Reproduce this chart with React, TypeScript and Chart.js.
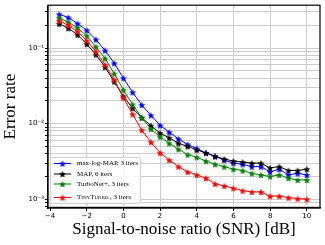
import { useEffect, useRef } from 'react';
import { Chart, registerables } from 'chart.js';

Chart.register(...registerables);

const snr = [-3.5, -3, -2.5, -2, -1.5, -1, -0.5, 0, 0.5, 1, 1.5, 2, 2.5, 3, 3.5, 4, 4.5, 5, 5.5, 6, 6.5, 7, 7.5, 8, 8.5, 9, 9.5, 10];
const maxLogMap = [0.28, 0.254, 0.211, 0.172, 0.13, 0.093, 0.063, 0.04, 0.026, 0.0177, 0.0129, 0.0095, 0.0077, 0.0063, 0.0053, 0.0047, 0.0041, 0.0037, 0.0033, 0.003, 0.0029, 0.0027, 0.0027, 0.0023, 0.0025, 0.0021, 0.0022, 0.0021];
const map6 = [0.21, 0.183, 0.15, 0.113, 0.082, 0.056, 0.036, 0.023, 0.016, 0.012, 0.0094, 0.0075, 0.0065, 0.0055, 0.005, 0.0045, 0.0041, 0.0037, 0.0034, 0.0032, 0.0031, 0.003, 0.003, 0.0026, 0.0027, 0.0024, 0.0024, 0.0025];
const turboNet = [0.25, 0.22, 0.185, 0.145, 0.104, 0.073, 0.046, 0.028, 0.018, 0.012, 0.0085, 0.0067, 0.0055, 0.0046, 0.0039, 0.0036, 0.0032, 0.0029, 0.0027, 0.0025, 0.0024, 0.0022, 0.0021, 0.002, 0.0021, 0.0019, 0.0018, 0.0018];
const tinyTurbo = [0.23, 0.2, 0.165, 0.125, 0.09, 0.06, 0.038, 0.022, 0.0133, 0.0082, 0.0057, 0.0041, 0.0033, 0.0027, 0.0023, 0.0021, 0.0019, 0.0016, 0.0015, 0.0014, 0.0013, 0.00125, 0.00125, 0.0011, 0.0011, 0.00105, 0.00102, 0.001];

const seriesLabels = ['max-log-MAP, 3 iters', 'MAP, 6 iters', 'TurboNet+, 3 iters', 'TinyTurbo', ' , 3 iters'];
const xTicks = [-4, -2, 0, 2, 4, 6, 8, 10];
const yTicks = [0.0008, 0.0009, 0.001, 0.002, 0.003, 0.004, 0.005, 0.006, 0.007, 0.008, 0.009, 0.01, 0.02, 0.03, 0.04, 0.05, 0.06, 0.07, 0.08, 0.09, 0.1, 0.2, 0.3];
const yTickLabels: Record<string, string> = { '-3': '10\u207B\u00B3', '-2': '10\u207B\u00B2', '-1': '10\u207B\u00B9' };

function makeStar(color: string, r = 3.7) {
  const size = Math.ceil(r * 2 + 2);
  const c = document.createElement('canvas');
  c.width = size;
  c.height = size;
  const ctx = c.getContext('2d')!;
  ctx.beginPath();
  for (let i = 0; i < 10; i++) {
    const rad = i % 2 === 0 ? r : r * 0.45;
    const a = -Math.PI / 2 + (i * Math.PI) / 5;
    const x = size / 2 + rad * Math.cos(a);
    const y = size / 2 + 0.5 + rad * Math.sin(a);
    if (i === 0) ctx.moveTo(x, y);
    else ctx.lineTo(x, y);
  }
  ctx.closePath();
  ctx.fillStyle = color;
  ctx.fill();
  return c;
}

export default function App() {
  const ref = useRef<HTMLCanvasElement>(null);

  useEffect(() => {
    const colors = { blue: '#0000ff', black: '#000000', green: '#008000', red: '#ff0000' };
    const stars = {
      blue: makeStar(colors.blue),
      black: makeStar(colors.black),
      green: makeStar(colors.green),
      red: makeStar(colors.red),
    };
    const mk = (vals: number[], key: 'blue' | 'black' | 'green' | 'red') => ({
      data: snr.map((x, i) => ({ x, y: vals[i] })),
      borderColor: colors[key],
      backgroundColor: colors[key],
      borderWidth: 1,
      pointStyle: stars[key] as any,
      pointRadius: 4,
      tension: 0,
      fill: false,
    });

    const framePlugin = {
      id: 'frameLegend',
      afterDraw(chart: any) {
        const { ctx, chartArea } = chart;
        ctx.save();
        ctx.strokeStyle = '#000';
        ctx.lineWidth = 1.2;
        ctx.strokeRect(chartArea.left, chartArea.top, chartArea.right - chartArea.left, chartArea.bottom - chartArea.top);

        // legend
        const bx = 50.5, by = 157.5, bw = 90, bh = 46;
        ctx.beginPath();
        const rr = 2;
        ctx.moveTo(bx + rr, by);
        ctx.lineTo(bx + bw - rr, by);
        ctx.quadraticCurveTo(bx + bw, by, bx + bw, by + rr);
        ctx.lineTo(bx + bw, by + bh - rr);
        ctx.quadraticCurveTo(bx + bw, by + bh, bx + bw - rr, by + bh);
        ctx.lineTo(bx + rr, by + bh);
        ctx.quadraticCurveTo(bx, by + bh, bx, by + bh - rr);
        ctx.lineTo(bx, by + rr);
        ctx.quadraticCurveTo(bx, by, bx + rr, by);
        ctx.closePath();
        ctx.fillStyle = 'rgba(255,255,255,0.8)';
        ctx.fill();
        ctx.strokeStyle = '#d0d0d0';
        ctx.lineWidth = 1;
        ctx.stroke();

        const rows: Array<{ key: 'blue' | 'black' | 'green' | 'red'; y: number }> = [
          { key: 'blue', y: 163.5 },
          { key: 'black', y: 174 },
          { key: 'green', y: 184 },
          { key: 'red', y: 197.5 },
        ];
        rows.forEach((r, i) => {
          ctx.strokeStyle = colors[r.key];
          ctx.lineWidth = 1;
          ctx.beginPath();
          ctx.moveTo(54, r.y);
          ctx.lineTo(71, r.y);
          ctx.stroke();
          const s = stars[r.key];
          ctx.drawImage(s, 62.5 - s.width / 2, r.y - s.height / 2);
          ctx.fillStyle = '#000';
          ctx.textBaseline = 'middle';
          ctx.textAlign = 'left';
          if (i < 3) {
            ctx.font = '7px "Liberation Serif"';
            ctx.fillText(seriesLabels[i], 77, r.y);
          } else {
            ctx.font = 'small-caps 7px "Liberation Serif"';
            ctx.fillText(seriesLabels[3], 77, r.y);
            const w = ctx.measureText(seriesLabels[3]).width;
            ctx.font = '7px "Liberation Serif"';
            ctx.fillText(seriesLabels[4], 77 + w, r.y);
          }
        });
        ctx.restore();
      },
    };

    const chart = new Chart(ref.current!, {
      type: 'line',
      data: {
        datasets: [mk(tinyTurbo, 'red'), mk(turboNet, 'green'), mk(map6, 'black'), mk(maxLogMap, 'blue')],
      },
      options: {
        animation: false,
        responsive: false,
        layout: { padding: { top: 5, right: 5, left: 0, bottom: 0 } },
        plugins: { legend: { display: false }, tooltip: { enabled: false } },
        scales: {
          x: {
            type: 'linear',
            min: -4.11,
            max: 10.72,
            afterBuildTicks: (s: any) => {
              s.ticks = xTicks.map((v) => ({ value: v }));
            },
            afterFit: (s: any) => {
              s.height = 37;
            },
            ticks: {
              autoSkip: false,
              maxRotation: 0,
              padding: 1,
              color: '#000',
              font: { family: 'DejaVu Sans', size: 7 },
              callback: (v: any) => (Number(v) < 0 ? '\u2212' + Math.abs(Number(v)) : String(v)),
            },
            grid: { color: '#cccccc', lineWidth: 1, tickColor: '#000', tickLength: 3 },
            border: { color: '#000', width: 1.2 },
            title: {
              display: true,
              text: 'Signal-to-noise ratio (SNR) [dB]',
              color: '#000',
              font: { family: 'Liberation Serif', size: 17 },
              padding: { top: 0, bottom: 5 },
            },
          },
          y: {
            type: 'logarithmic',
            min: 0.000766,
            max: 0.369,
            afterBuildTicks: (s: any) => {
              s.ticks = yTicks.map((v) => ({ value: v }));
            },
            afterFit: (s: any) => {
              s.width = 48;
            },
            ticks: {
              autoSkip: false,
              padding: 1,
              color: '#000',
              font: { family: 'DejaVu Sans', size: 7 },
              callback: (v: any) => {
                const l = Math.log10(Number(v));
                const r = Math.round(l);
                if (Math.abs(l - r) < 1e-6) return yTickLabels[String(r)] ?? '';
                return '';
              },
            },
            grid: { color: '#cccccc', lineWidth: 1, tickColor: '#000', tickLength: 3 },
            border: { color: '#000', width: 1.2 },
            title: {
              display: true,
              text: 'Error rate',
              color: '#000',
              font: { family: 'Liberation Serif', size: 17 },
              padding: { top: 0, bottom: 0 },
            },
          },
        },
      },
      plugins: [framePlugin],
    });
    return () => chart.destroy();
  }, []);

  return (
    <div style={{ position: 'fixed', left: 0, top: 0, width: 325, height: 245, background: '#fff' }}>
      <canvas ref={ref} width={325} height={245} />
    </div>
  );
}
